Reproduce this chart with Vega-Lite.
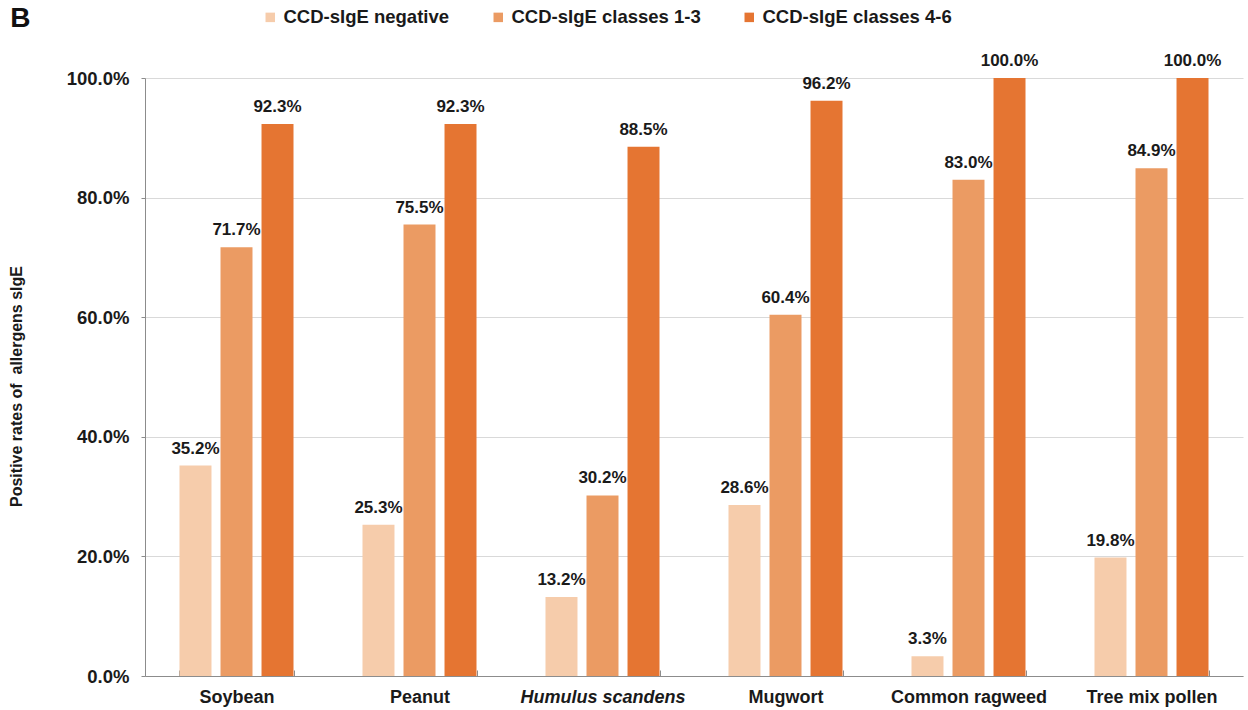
{
  "$schema": "https://vega.github.io/schema/vega-lite/v6.json",
  "autosize": "none",
  "width": 1098,
  "height": 598,
  "padding": {"left": 145, "top": 78, "right": 5, "bottom": 34},
  "background": "white",
  "title": {"text": "B", "anchor": "start", "frame": "bounds", "fontSize": 28, "fontWeight": "bold", "font": "Liberation Sans", "color": "#111", "offset": 0, "baseline": "alphabetic", "dy": 47, "dx": 2},
  "data": {
    "values": [
      {"allergen": "Soybean", "group": "CCD-sIgE negative", "rate": 0.352},
      {"allergen": "Soybean", "group": "CCD-sIgE classes 1-3", "rate": 0.717},
      {"allergen": "Soybean", "group": "CCD-sIgE classes 4-6", "rate": 0.923},
      {"allergen": "Peanut", "group": "CCD-sIgE negative", "rate": 0.253},
      {"allergen": "Peanut", "group": "CCD-sIgE classes 1-3", "rate": 0.755},
      {"allergen": "Peanut", "group": "CCD-sIgE classes 4-6", "rate": 0.923},
      {"allergen": "Humulus scandens", "group": "CCD-sIgE negative", "rate": 0.132},
      {"allergen": "Humulus scandens", "group": "CCD-sIgE classes 1-3", "rate": 0.302},
      {"allergen": "Humulus scandens", "group": "CCD-sIgE classes 4-6", "rate": 0.885},
      {"allergen": "Mugwort", "group": "CCD-sIgE negative", "rate": 0.286},
      {"allergen": "Mugwort", "group": "CCD-sIgE classes 1-3", "rate": 0.604},
      {"allergen": "Mugwort", "group": "CCD-sIgE classes 4-6", "rate": 0.962},
      {"allergen": "Common ragweed", "group": "CCD-sIgE negative", "rate": 0.033},
      {"allergen": "Common ragweed", "group": "CCD-sIgE classes 1-3", "rate": 0.830},
      {"allergen": "Common ragweed", "group": "CCD-sIgE classes 4-6", "rate": 1.0},
      {"allergen": "Tree mix pollen", "group": "CCD-sIgE negative", "rate": 0.198},
      {"allergen": "Tree mix pollen", "group": "CCD-sIgE classes 1-3", "rate": 0.849},
      {"allergen": "Tree mix pollen", "group": "CCD-sIgE classes 4-6", "rate": 1.0}
    ]
  },
  "encoding": {
    "x": {
      "field": "allergen", "type": "nominal", "sort": null,
      "scale": {"paddingInner": 0.377, "paddingOuter": 0.1885},
      "axis": {
        "title": null, "labelAngle": 0, "tickBand": "extent", "grid": false,
        "labelFont": "Liberation Sans", "labelFontSize": 18, "labelFontWeight": "bold", "labelColor": "#1a1a1a",
        "labelFontStyle": {"condition": {"test": "datum.value === 'Humulus scandens'", "value": "italic"}, "value": "normal"},
        "domainColor": "#8c8c8c", "tickColor": "#8c8c8c", "tickSize": -6, "labelPadding": 18, "labelLimit": 300
      }
    },
    "xOffset": {
      "field": "group", "type": "nominal", "sort": ["CCD-sIgE negative", "CCD-sIgE classes 1-3", "CCD-sIgE classes 4-6"],
      "scale": {"paddingInner": 0.22, "paddingOuter": 0}
    },
    "y": {
      "field": "rate", "type": "quantitative",
      "scale": {"domain": [0, 1], "nice": false},
      "axis": {
        "title": "Positive rates of\u00a0 allergens sIgE", "format": ".1%", "values": [0, 0.2, 0.4, 0.6, 0.8, 1.0],
        "titleFont": "Liberation Sans", "titleFontSize": 16, "titleFontWeight": "bold", "titleColor": "#1a1a1a", "titlePadding": 42, "titleY": 308,
        "labelFont": "Liberation Sans", "labelFontSize": 18.5, "labelFontWeight": "bold", "labelColor": "#1a1a1a", "labelPadding": 12,
        "domainColor": "#8c8c8c", "tickColor": "#8c8c8c", "tickSize": 4,
        "grid": true, "gridColor": "#d9d9d9"
      }
    }
  },
  "layer": [
    {
      "mark": {"type": "bar"},
      "encoding": {
        "color": {
          "field": "group", "type": "nominal",
          "scale": {"domain": ["CCD-sIgE negative", "CCD-sIgE classes 1-3", "CCD-sIgE classes 4-6"], "range": ["#F6CCAB", "#EB9B63", "#E57532"]},
          "legend": {
            "title": null, "orient": "none", "legendX": 116, "legendY": -70, "direction": "horizontal", "columns": 3,
            "symbolType": "square", "symbolSize": 90, "symbolStrokeWidth": 0, "labelOffset": 4, "columnPadding": 39,
            "labelFont": "Liberation Sans", "labelFontSize": 18.5, "labelFontWeight": "bold", "labelColor": "#1a1a1a", "labelLimit": 400
          }
        }
      }
    },
    {
      "mark": {"type": "text", "baseline": "alphabetic", "dy": -12, "font": "Liberation Sans", "fontSize": 17, "fontWeight": "bold", "color": "#1a1a1a"},
      "encoding": {
        "text": {"field": "rate", "type": "quantitative", "format": ".1%"}
      }
    }
  ],
  "config": {"view": {"stroke": null}}
}
